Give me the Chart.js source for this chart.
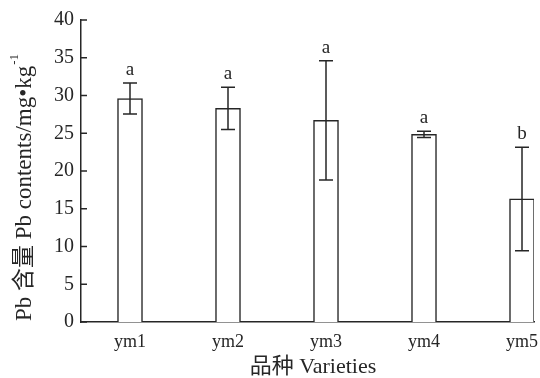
<!DOCTYPE html>
<html><head><meta charset="utf-8">
<script src="https://cdn.jsdelivr.net/npm/chart.js@4/dist/chart.umd.min.js"></script>
<style>html,body{margin:0;padding:0;background:#fff;overflow:hidden}</style>
</head><body><canvas id="c" width="540" height="378"></canvas>
<script>
const categories = ['ym1', 'ym2', 'ym3', 'ym4', 'ym5'];
const pbMeans = [29.6, 28.3, 26.7, 24.85, 16.3];
const pbSD = [2.05, 2.8, 7.9, 0.4, 6.85];
const sigLetters = ['a', 'a', 'a', 'a', 'b'];
const yTicks = [0, 5, 10, 15, 20, 25, 30, 35, 40];
const yTitleMain = 'Pb 含量 Pb contents/mg•kg';
const yTitleSup = '-1';
const xTitle = '品种 Varieties';

const FONT = "'Liberation Serif','Noto Sans CJK SC',serif";
const INK = '#262626';
const positions = categories.map((c, i) => i + 1);

const decor = {
  id: 'decor',
  afterDatasetsDraw(chart) {
    const ctx = chart.ctx, xs = chart.scales.x, ys = chart.scales.y;
    ctx.save();
    ctx.strokeStyle = INK; ctx.fillStyle = INK; ctx.lineWidth = 1.5;
    const ax = chart.chartArea.left;
    yTicks.forEach(v => {
      const y = ys.getPixelForValue(v);
      ctx.beginPath(); ctx.moveTo(ax, y); ctx.lineTo(ax + 6, y); ctx.stroke();
    });
    ctx.font = '19px ' + FONT;
    ctx.textAlign = 'center'; ctx.textBaseline = 'alphabetic';
    positions.forEach((p, i) => {
      const x = xs.getPixelForValue(p);
      const yt = ys.getPixelForValue(pbMeans[i] + pbSD[i]);
      const yb = ys.getPixelForValue(pbMeans[i] - pbSD[i]);
      ctx.beginPath();
      ctx.moveTo(x, yt); ctx.lineTo(x, yb);
      ctx.moveTo(x - 7, yt); ctx.lineTo(x + 7, yt);
      ctx.moveTo(x - 7, yb); ctx.lineTo(x + 7, yb);
      ctx.stroke();
      ctx.fillText(sigLetters[i], x, yt - 8);
    });
    ctx.font = '22px ' + FONT;
    ctx.textBaseline = 'middle';
    ctx.fillText(xTitle, 313, 367);
    ctx.translate(23, 188);
    ctx.rotate(-Math.PI / 2);
    ctx.font = '23px ' + FONT;
    const wMain = ctx.measureText(yTitleMain).width;
    ctx.font = '13px ' + FONT;
    const wSup = ctx.measureText(yTitleSup).width;
    const start = -(wMain + wSup) / 2;
    ctx.textAlign = 'left'; ctx.textBaseline = 'alphabetic';
    ctx.font = '23px ' + FONT;
    ctx.fillText(yTitleMain, start, 8);
    ctx.font = '13px ' + FONT;
    ctx.fillText(yTitleSup, start + wMain + 1, -5);
    ctx.restore();
  }
};

new Chart(document.getElementById('c'), {
  type: 'bar',
  data: {
    datasets: [{
      data: positions.map((x, i) => ({ x: x, y: pbMeans[i] })),
      backgroundColor: '#ffffff',
      borderColor: INK,
      borderWidth: 1.5,
      barThickness: 25
    }]
  },
  options: {
    responsive: false,
    animation: false,
    devicePixelRatio: 1,
    layout: { padding: { left: 0, top: 20, right: 6, bottom: 0 } },
    plugins: { legend: { display: false }, tooltip: { enabled: false } },
    scales: {
      x: {
        type: 'linear', min: 0.5, max: 5.1224, offset: false,
        grid: { display: false, drawTicks: false, tickLength: 0, offset: false },
        border: { display: true, color: INK, width: 1.5 },
        afterBuildTicks: s => { s.ticks = positions.map(v => ({ value: v })); },
        afterFit: s => { s.height = 56; s.paddingLeft = 0; s.paddingRight = 0; },
        ticks: {
          callback: v => categories[v - 1],
          font: { family: FONT, size: 18 }, color: INK,
          padding: 9, maxRotation: 0, autoSkip: false
        }
      },
      y: {
        min: 0, max: 40,
        grid: { display: false, drawTicks: false, tickLength: 0 },
        border: { display: true, color: INK, width: 1.5 },
        afterBuildTicks: s => { s.ticks = yTicks.map(v => ({ value: v })); },
        afterFit: s => { s.width = 81; s.paddingTop = 0; s.paddingBottom = 0; },
        ticks: { font: { family: FONT, size: 20 }, color: INK, padding: 7 }
      }
    }
  },
  plugins: [decor]
});
</script>
</body></html>
